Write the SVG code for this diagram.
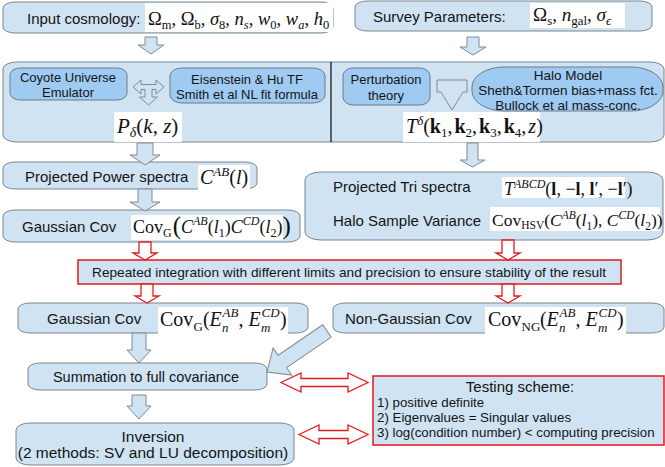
<svg xmlns="http://www.w3.org/2000/svg" width="665" height="467" viewBox="0 0 665 467">
<style>
.box{fill:#cfe3f3;stroke:#7a858f;stroke-width:1}
.inner{fill:#9fcaf2;stroke:#6e7b87;stroke-width:1}
.arr{fill:#cfe3f3;stroke:#7f8a93;stroke-width:1}
.rarr{fill:#ffffff;stroke:#e3191c;stroke-width:1.3}
.rbox{fill:#cfe3f3;stroke:#e3191c;stroke-width:1.5}
.mr{fill:#ffffff}
.t{font-family:"Liberation Sans",Arial,sans-serif;fill:#141414}
.c{text-anchor:middle}
.m{font-family:"Liberation Serif","Times New Roman",serif;fill:#111}
.i{font-style:italic}
.b{font-weight:bold}
</style>
<rect width="665" height="467" fill="#ffffff"/>

<g id="input-cosmology">
<rect class="box" x="3" y="2" width="330" height="31" rx="12" ry="6"/>
<text class="t" x="27" y="24" font-size="15">Input cosmology:</text>
<rect class="mr" x="145" y="3" width="188" height="29"/>
<text class="m" x="148" y="25" font-size="18.5">Ω<tspan font-size="12.5" dy="4">m</tspan><tspan dy="-4">, Ω</tspan><tspan font-size="12.5" dy="4">b</tspan><tspan dy="-4">, </tspan><tspan class="i">σ</tspan><tspan font-size="12.5" dy="4">8</tspan><tspan dy="-4">, </tspan><tspan class="i">n</tspan><tspan class="i" font-size="12.5" dy="4">s</tspan><tspan dy="-4">, </tspan><tspan class="i">w</tspan><tspan font-size="12.5" dy="4">0</tspan><tspan dy="-4">, </tspan><tspan class="i">w</tspan><tspan class="i" font-size="12.5" dy="4">a</tspan><tspan dy="-4">, </tspan><tspan class="i">h</tspan><tspan font-size="12.5" dy="4">0</tspan></text>
</g>

<g id="survey-parameters">
<rect class="box" x="355" y="1" width="297" height="30" rx="12" ry="6"/>
<text class="t" x="373" y="22" font-size="15">Survey Parameters:</text>
<rect class="mr" x="530" y="3" width="95" height="25"/>
<text class="m" x="533" y="21" font-size="19">Ω<tspan font-size="13" dy="4">s</tspan><tspan dy="-4">, </tspan><tspan class="i">n</tspan><tspan font-size="13" dy="4">gal</tspan><tspan dy="-4">, </tspan><tspan class="i">σ</tspan><tspan class="i" font-size="13" dy="4">ϵ</tspan></text>
</g>

<g id="power-spectrum-stage">
<rect class="box" x="3" y="62" width="661" height="80" rx="14" ry="7"/>
<line x1="331" y1="62" x2="331" y2="142" stroke="#1a1a1a" stroke-width="1.3"/>
</g>

<g id="coyote">
<rect class="inner" x="10" y="68" width="117" height="32" rx="10" ry="7"/>
<text class="t c" x="68" y="82" font-size="13">Coyote Universe</text>
<text class="t c" x="68" y="97" font-size="13">Emulator</text>
</g>

<g id="eisenstein-hu">
<rect class="inner" x="170" y="68" width="155" height="35" rx="12" ry="8"/>
<text class="t c" x="247" y="84" font-size="13">Eisenstein &amp; Hu TF</text>
<text class="t c" x="247" y="99" font-size="13">Smith et al NL fit formula</text>
</g>

<g id="p-delta">
<rect class="mr" x="114" y="112" width="68" height="30"/>
<text class="m" x="117" y="133" font-size="21"><tspan class="i">P</tspan><tspan class="i" font-size="14" dy="4">δ</tspan><tspan dy="-4">(</tspan><tspan class="i">k</tspan>, <tspan class="i">z</tspan>)</text>
</g>

<g id="perturbation-theory">
<rect class="inner" x="343" y="68" width="87" height="37" rx="10" ry="8"/>
<text class="t c" x="386" y="84" font-size="13">Perturbation</text>
<text class="t c" x="386" y="100" font-size="13">theory</text>
</g>

<g id="halo-model">
<rect class="inner" x="472" y="67" width="191" height="44" rx="32" ry="20"/>
<text class="t c" x="568" y="80" font-size="13.5">Halo Model</text>
<text class="t c" x="568" y="95" font-size="13.5">Sheth&amp;Tormen bias+mass fct.</text>
<text class="t c" x="568" y="110" font-size="13.5">Bullock et al mass-conc.</text>
</g>

<g id="t-delta">
<rect class="mr" x="403" y="112" width="137" height="30"/>
<text class="m" x="406" y="133" font-size="20"><tspan class="i">T</tspan><tspan class="i" font-size="13" dy="-8">δ</tspan><tspan dy="8">(</tspan><tspan class="b">k</tspan><tspan font-size="13" dy="4">1</tspan><tspan dy="-4">,</tspan><tspan class="b" dx="2">k</tspan><tspan font-size="13" dy="4">2</tspan><tspan dy="-4">,</tspan><tspan class="b" dx="2">k</tspan><tspan font-size="13" dy="4">3</tspan><tspan dy="-4">,</tspan><tspan class="b" dx="2">k</tspan><tspan font-size="13" dy="4">4</tspan><tspan dy="-4">,</tspan><tspan class="i" dx="2">z</tspan>)</text>
</g>

<g id="projected-power">
<rect class="box" x="3" y="162" width="254" height="27" rx="12" ry="6"/>
<text class="t" x="25" y="182" font-size="15">Projected Power spectra</text>
<rect class="mr" x="198" y="165" width="52" height="25"/>
<text class="m" x="200" y="184" font-size="20"><tspan class="i">C</tspan><tspan class="i" font-size="13" dy="-8">AB</tspan><tspan dy="8">(</tspan><tspan class="i">l</tspan>)</text>
</g>

<g id="gaussian-cov-1">
<rect class="box" x="3" y="210" width="297" height="32" rx="12" ry="6"/>
<text class="t" x="22" y="232" font-size="15">Gaussian Cov</text>
<rect class="mr" x="131" y="215" width="152" height="25"/>
<text class="m" x="133" y="233" font-size="18">Cov<tspan font-size="12" dy="4">G</tspan><tspan font-size="25" dy="-3" dx="1">(</tspan><tspan class="i" dy="-1">C</tspan><tspan class="i" font-size="12" dy="-8">AB</tspan><tspan dy="8">(</tspan><tspan class="i">l</tspan><tspan font-size="12" dy="4">1</tspan><tspan dy="-4">)</tspan><tspan class="i">C</tspan><tspan class="i" font-size="12" dy="-8">CD</tspan><tspan dy="8">(</tspan><tspan class="i">l</tspan><tspan font-size="12" dy="4">2</tspan><tspan dy="-4">)</tspan><tspan font-size="25" dy="1">)</tspan></text>
</g>

<g id="projected-tri">
<rect class="box" x="305" y="172" width="358" height="68" rx="16" ry="8"/>
<text class="t" x="333" y="192" font-size="15">Projected Tri spectra</text>
<rect class="mr" x="502" y="177" width="123" height="21"/>
<text class="m" x="504" y="195" font-size="18"><tspan class="i">T</tspan><tspan class="i" font-size="12" dy="-7">ABCD</tspan><tspan dy="7">(</tspan><tspan class="b">l</tspan>, −<tspan class="b">l</tspan>, <tspan class="b">l</tspan>′, −<tspan class="b">l</tspan>′)</text>
<text class="t" x="333" y="226" font-size="15">Halo Sample Variance</text>
<rect class="mr" x="490" y="207" width="170" height="24"/>
<text class="m" x="492" y="226" font-size="17.5">Cov<tspan font-size="11.5" dy="3">HSV</tspan><tspan dy="-3">(</tspan><tspan class="i">C</tspan><tspan class="i" font-size="11.5" dy="-7">AB</tspan><tspan dy="7">(</tspan><tspan class="i">l</tspan><tspan font-size="11.5" dy="4">1</tspan><tspan dy="-4">), </tspan><tspan class="i">C</tspan><tspan class="i" font-size="11.5" dy="-7">CD</tspan><tspan dy="7">(</tspan><tspan class="i">l</tspan><tspan font-size="11.5" dy="4">2</tspan><tspan dy="-4">))</tspan></text>
</g>

<g id="repeated-integration">
<rect class="rbox" x="78" y="260" width="543" height="24"/>
<text class="t c" x="349" y="277" font-size="13" textLength="514" lengthAdjust="spacingAndGlyphs">Repeated integration with different limits and precision to ensure stability of the result</text>
</g>

<g id="gaussian-cov-2">
<rect class="box" x="18" y="303" width="290" height="30" rx="12" ry="6"/>
<text class="t" x="47" y="324" font-size="15">Gaussian Cov</text>
<rect class="mr" x="158" y="307" width="130" height="28"/>
<text class="m" font-size="20"><tspan x="160" y="326">Cov</tspan><tspan x="193.5" y="331" font-size="13">G</tspan><tspan x="203" y="326">(</tspan><tspan class="i" x="209.5" y="326">E</tspan><tspan class="i" x="222.5" y="317" font-size="13">AB</tspan><tspan class="i" x="222" y="332" font-size="13">n</tspan><tspan x="238.5" y="326">, </tspan><tspan class="i" x="248.5" y="326">E</tspan><tspan class="i" x="261.5" y="317" font-size="13">CD</tspan><tspan class="i" x="261" y="332" font-size="13">m</tspan><tspan x="280" y="326">)</tspan></text>
</g>

<g id="non-gaussian-cov">
<rect class="box" x="333" y="303" width="331" height="30" rx="12" ry="6"/>
<text class="t" x="345" y="324" font-size="15">Non-Gaussian Cov</text>
<rect class="mr" x="485" y="307" width="141" height="28"/>
<text class="m" font-size="20"><tspan x="488" y="326">Cov</tspan><tspan x="521.5" y="331" font-size="13">NG</tspan><tspan x="540" y="326">(</tspan><tspan class="i" x="546.5" y="326">E</tspan><tspan class="i" x="559.5" y="317" font-size="13">AB</tspan><tspan class="i" x="559" y="332" font-size="13">n</tspan><tspan x="575.5" y="326">, </tspan><tspan class="i" x="585.5" y="326">E</tspan><tspan class="i" x="598.5" y="317" font-size="13">CD</tspan><tspan class="i" x="598" y="332" font-size="13">m</tspan><tspan x="617" y="326">)</tspan></text>
</g>

<g id="summation">
<rect class="box" x="28" y="363" width="239" height="27" rx="12" ry="6"/>
<text class="t c" x="146" y="382" font-size="14.5">Summation to full covariance</text>
</g>

<g id="testing-scheme">
<rect class="rbox" x="373" y="376" width="291" height="69"/>
<text class="t c" x="520" y="392" font-size="15">Testing scheme:</text>
<text class="t" x="377" y="407" font-size="13.3">1) positive definite</text>
<text class="t" x="377" y="422" font-size="13.3">2) Eigenvalues = Singular values</text>
<text class="t" x="377" y="437" font-size="13.3">3) log(condition number) &lt; computing precision</text>
</g>

<g id="inversion">
<rect class="box" x="16" y="423" width="278" height="42" rx="14" ry="7"/>
<text class="t c" x="153" y="442" font-size="15.5">Inversion</text>
<text class="t c" x="153" y="458" font-size="15.5">(2 methods: SV and LU decomposition)</text>
</g>

<g id="connectors">
<path class="arr" d="M145,37 H157 V45 H164 L151,54 L138,45 H145 Z"/>
<path class="arr" d="M467,37 H479 V47 H486 L473,55 L460,47 H467 Z"/>
<path class="arr" d="M133,87 L141,80 V84.5 H156 V80 L164,87 L156,94 V89.5 H152 V97 H157.5 L148.5,105 L139.5,97 H145 V89.5 H141 V94 Z"/>
<path class="arr" d="M437,80 H467 V92 H463 L452,110 L441,92 H437 Z"/>
<path class="arr" d="M137,143 H153 V155 H160 L145,165 L130,155 H137 Z"/>
<path class="arr" d="M138,189 H152 V202 H160 L145,211 L130,202 H138 Z"/>
<path class="arr" d="M467,143 H478 V160 H485 L472.5,167 L460,160 H467 Z"/>
<path class="rarr" d="M139,242 H151 V253 H157 L145,260 L133,253 H139 Z"/>
<path class="rarr" d="M502,240 H514 V253 H520 L508,260 L496,253 H502 Z"/>
<path class="rarr" d="M141,284 H153 V296 H159 L147,303 L135,296 H141 Z"/>
<path class="rarr" d="M502,284 H514 V296 H520 L508,303 L496,296 H502 Z"/>
<path class="arr" d="M132,333 H146 V350 H151 L139,363 L127,350 H132 Z"/>
<path class="arr" d="M132,395 H146 V406 H151 L139,419 L127,406 H132 Z"/>
<path class="arr" transform="translate(327,331) rotate(145.65)" d="M0,-7.5 H54 V-16.5 L72.7,0 L54,16.5 V7.5 H0 Z"/>
<path class="rarr" d="M281,382.5 L301,373 V378.5 H348 V373 L368,382.5 L348,392 V386.5 H301 V392 Z"/>
<path class="rarr" d="M299,434.5 L319,425 V430.5 H348 V425 L368,434.5 L348,444 V438.5 H319 V444 Z"/>
</g>
</svg>
